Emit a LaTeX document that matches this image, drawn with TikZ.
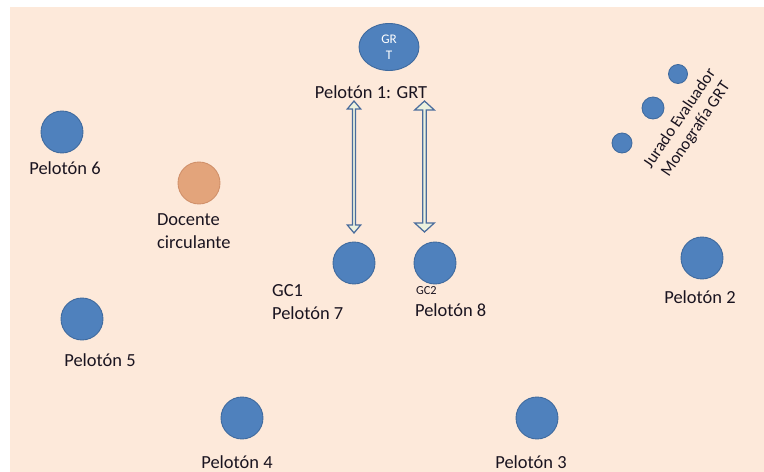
\documentclass[tikz,border=0pt]{standalone}
\usepackage{fontspec}
\setmainfont{Carlito}
\usetikzlibrary{shapes.arrows,shapes.geometric}
\definecolor{fondo}{HTML}{FDE9DA}
\definecolor{azul}{HTML}{4F81BD}
\definecolor{azulbd}{HTML}{3F6A9E}
\definecolor{naranja}{HTML}{E3A47B}
\definecolor{naranjabd}{HTML}{D0906A}
\definecolor{flecha}{HTML}{EBF1DE}
\definecolor{flechabd}{HTML}{4A6C9C}
\definecolor{texto}{HTML}{1A1420}

\begin{document}
\begin{tikzpicture}[x=0.02cm, y=-0.02cm,
  font=\fontsize{10.5}{12}\selectfont, text=texto,
  peloton/.style = {circle, draw=azulbd, fill=azul, line width=.5pt, minimum size=8.4mm, inner sep=0pt},
  jurado/.style = {circle, draw=azulbd, fill=azul, line width=.5pt, inner sep=0pt},
  rotulo/.style = {inner sep=1pt, align=left},
  doble/.style = {double arrow, draw=flechabd, fill=flecha, line width=.7pt, inner sep=0pt, rotate=90}]
  \useasboundingbox (0,0) rectangle (764,472);
  \fill [fondo] (10,7) rectangle (764,472);

  % grupo GRT
  \node (grt) at (389,47) [ellipse, draw=azulbd, fill=azul, line width=.5pt, minimum width=12mm, minimum height=9.4mm, inner sep=0pt, align=center, text=white, font=\fontsize{7.5}{9}\selectfont] {GR\\T};
  \node (lgrt) at (371,92) [rotulo] {Pelotón 1: GRT};

  % pelotones
  \node (p2) at (702,258) [peloton] {};
  \node (p3) at (537,418) [peloton] {};
  \node (p4) at (242,418) [peloton] {};
  \node (p5) at (82,319) [peloton] {};
  \node (p6) at (62,132) [peloton] {};
  \node (gc1) at (354,263) [peloton] {};
  \node (gc2) at (435,263) [peloton] {};
  \node (doc) at (199,183) [peloton, draw=naranjabd, fill=naranja] {};

  \node (lp2) at (700,297) [rotulo] {Pelotón 2};
  \node (lp3) at (531,462) [rotulo] {Pelotón 3};
  \node (lp4) at (237,462) [rotulo] {Pelotón 4};
  \node (lp5) at (100,360) [rotulo] {Pelotón 5};
  \node (lp6) at (65,168) [rotulo] {Pelotón 6};
  \node (lgc1) at (270,302) [rotulo, anchor=west, font=\fontsize{10.5}{13}\selectfont] {GC1\\Pelotón 7};
  \node (lgc2) at (414,291) [rotulo, anchor=west, font=\fontsize{7}{8}\selectfont] {GC2};
  \node (lp8) at (413,310) [rotulo, anchor=west] {Pelotón 8};
  \node (ldoc) at (155,231) [rotulo, anchor=west, font=\fontsize{10.5}{13}\selectfont] {Docente\\circulante};

  % jurado
  \node (j1) at (678,74) [jurado, minimum size=3.8mm] {};
  \node (j2) at (653,108) [jurado, minimum size=4.4mm] {};
  \node (j3) at (622,143) [jurado, minimum size=4mm] {};
  \node (ljur) at (688,124) [rotulo, align=center, rotate=56, font=\fontsize{9.5}{11}\selectfont] {Jurado Evaluador\\Monografía GRT};

  % flechas GRT <-> GC
  \node (f1) at (354,167) [doble, minimum height=26.4mm, minimum width=2.7mm, double arrow head extend=0.4mm, double arrow tip angle=80] {};
  \node (f2) at (424.5,166.5) [doble, minimum height=26.2mm, minimum width=3.9mm, double arrow head extend=0.6mm, double arrow tip angle=95] {};
\end{tikzpicture}
\end{document}
